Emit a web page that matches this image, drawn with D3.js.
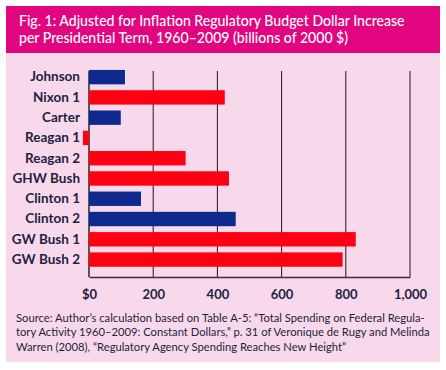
<!DOCTYPE html>
<html><head><meta charset="utf-8">
<script src="https://cdn.jsdelivr.net/npm/d3@7"></script>
<style>body{margin:0;background:#fff}svg{display:block}</style>
</head><body>
<script>
const categories = ["Johnson","Nixon 1","Carter","Reagan 1","Reagan 2","GHW Bush","Clinton 1","Clinton 2","GW Bush 1","GW Bush 2"];
const values = [112, 423, 99, -19, 301, 436, 162, 457, 831, 790];
const party = ["D","R","D","R","R","R","D","D","R","R"];
const tickValues = [0, 200, 400, 600, 800, 1000];
const tickLabels = ["$0","200","400","600","800","1,000"];
const titleLines = ["Fig. 1: Adjusted for Inflation Regulatory Budget Dollar Increase","per Presidential Term, 1960\u20132009 (billions of 2000 $)"];
const sourceLines = ["Source: Author\u2019s calculation based on Table A-5: \u201cTotal Spending on Federal Regula-","tory Activity 1960\u20132009: Constant Dollars,\u201d p. 31 of Veronique de Rugy and Melinda","Warren (2008), \u201cRegulatory Agency Spending Reaches New Height\u201d"];

const W = 446, H = 370;
const svg = d3.select("body").append("svg").attr("width", W).attr("height", H);
const font = "Lato, 'Open Sans', sans-serif";

// draw a block of lines condensed horizontally so the first line spans targetWidth
function textBlock(lines, x0, y0, lh, size, weight, color, targetWidth) {
  const g = svg.append("g");
  const t = g.selectAll("text").data(lines).join("text")
    .attr("x",0).attr("y",(d,i)=>i*lh)
    .attr("fill",color).attr("font-family",font).attr("font-size",size).attr("font-weight",weight)
    .text(d=>d);
  const w = t.nodes()[0].getComputedTextLength();
  g.attr("transform",`translate(${x0},${y0}) scale(${targetWidth/w},1)`);
}

svg.append("rect").attr("x",6).attr("y",6).attr("width",434).attr("height",356).attr("fill","#f8d9ec");
svg.append("rect").attr("x",6).attr("y",6).attr("width",434).attr("height",47).attr("fill","#e1067f");
textBlock(titleLines, 19, 26, 17.5, 15, 500, "#fff", 386);

const x = d3.scaleLinear().domain([0,1000]).range([89,410]);
const y = d3.scaleBand().domain(categories).range([67,269.7]).paddingInner(0.29).paddingOuter(0.145);
const plotTop = 71, plotBottom = 277;

// gridlines
svg.append("g").selectAll("line").data(tickValues.slice(1)).join("line")
  .attr("x1",d=>x(d)).attr("x2",d=>x(d)).attr("y1",plotTop).attr("y2",plotBottom)
  .attr("stroke","#1a1a1a").attr("stroke-width",1);
svg.append("line").attr("x1",x(0)).attr("x2",x(0)).attr("y1",plotTop).attr("y2",plotBottom)
  .attr("stroke","#333").attr("stroke-width",1.6);

// bars
svg.append("g").selectAll("rect").data(values).join("rect")
  .attr("x",d=>x(Math.min(0,d))).attr("width",d=>Math.abs(x(d)-x(0)))
  .attr("y",(d,i)=>y(categories[i])).attr("height",y.bandwidth())
  .attr("fill",(d,i)=>party[i]==="D"?"#0e2a8e":"#ff0012");

// bottom axis
const xAxis = d3.axisBottom(x).tickValues(tickValues).tickFormat((d,i)=>tickLabels[i]).tickSize(0).tickPadding(13);
const gx = svg.append("g").attr("transform",`translate(0,${plotBottom})`).call(xAxis);
gx.select(".domain").attr("stroke","#333").attr("stroke-width",1.6);
gx.selectAll("text").attr("font-family",font).attr("font-size",13).attr("font-weight",700).attr("fill","#222240");

// left axis labels
const yAxis = d3.axisLeft(y).tickSize(0).tickPadding(9);
const gy = svg.append("g").attr("transform",`translate(${x(0)},0)`).call(yAxis);
gy.select(".domain").remove();
gy.selectAll("text").attr("font-family",font).attr("font-size",13.5).attr("font-weight",700).attr("fill","#222240");

// source
textBlock(sourceLines, 16, 322, 14.5, 12, 400, "#1e1e3a", 409);
</script>
</body></html>
